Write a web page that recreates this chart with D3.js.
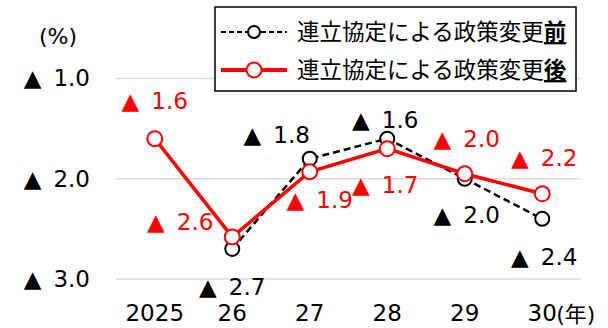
<!DOCTYPE html>
<html>
<head>
<meta charset="utf-8">
<script src="https://cdn.jsdelivr.net/npm/d3@7"></script>
<style>
  body { margin: 0; background: #fff; }
  svg { display: block; font-family: "DejaVu Sans", Verdana, sans-serif; }
</style>
</head>
<body>
<div id="chart"></div>
<script>
/** data (values are negative, shown with ▲) */
var years = ["2025", "26", "27", "28", "29", "30"];
var yTicks = [1.0, 2.0, 3.0];
var beforeVals = [null, 2.7, 1.8, 1.6, 2.0, 2.4];
var afterVals = [1.6, 2.58, 1.93, 1.7, 1.95, 2.15];
var beforeLabels = [null, "2.7", "1.8", "1.6", "2.0", "2.4"];
var afterLabels = ["1.6", "2.6", "1.9", "1.7", "2.0", "2.2"];
var legendNames = ["連立協定による政策変更", "連立協定による政策変更"];
var legendTails = ["前", "後"];

/** label offsets from each point (layout only) */
var beforeOffsets = [null, [0, 38], [-33, -24], [-2, -19], [2, 36], [2, 38]];
var afterOffsets = [[0, -38], [-52, -15], [10, 28], [-2, 36], [2, -35], [2, -36]];

var width = 608, height = 328;
var plotLeft = 116, plotRight = 581, plotTop = 78.5, plotBottom = 279;
var fontSize = 23;

var svg = d3.select("#chart")
  .append("svg")
    .attr("width", width)
    .attr("height", height);

var x = d3.scaleBand()
  .domain(years)
  .range([plotLeft, plotRight]);

var y = d3.scaleLinear()
  .domain([1, 3])
  .range([plotTop, plotBottom]);

/** grid lines */
svg.append("g")
  .selectAll("line")
  .data(yTicks)
  .enter()
  .append("line")
    .attr("x1", plotLeft)
    .attr("x2", plotRight)
    .attr("y1", function(d) { return y(d); })
    .attr("y2", function(d) { return y(d); })
    .attr("stroke", "#d9d9d9")
    .attr("stroke-width", 1.5);

/** writes "▲ n.n" with a little extra gap after the triangle */
function triText(sel, num) {
  sel.text(null);
  sel.append("tspan").text("▲");
  sel.append("tspan").attr("dx", 12).text(num);
}

/** y axis labels */
var yAxis = svg.append("g")
  .attr("transform", "translate(" + plotLeft + ",0)")
  .call(d3.axisLeft(y).tickValues(yTicks).tickSize(0).tickPadding(26));
yAxis.select(".domain").remove();
yAxis.selectAll("text")
  .attr("font-size", fontSize)
  .attr("font-family", "DejaVu Sans")
  .attr("fill", "#000")
  .each(function(d) { triText(d3.select(this), d.toFixed(1)); });

/** x axis labels */
var xAxis = svg.append("g")
  .attr("transform", "translate(0," + plotBottom + ")")
  .call(d3.axisBottom(x).tickSize(0).tickPadding(26));
xAxis.select(".domain").remove();
xAxis.selectAll("text")
  .attr("font-size", fontSize)
  .attr("font-family", "DejaVu Sans")
  .attr("fill", "#000");

var cx = function(i) { return x(years[i]) + x.bandwidth() / 2; };

svg.append("text")
  .attr("x", cx(5) + 14)
  .attr("y", plotBottom + 43)
  .attr("font-size", 22)
  .attr("font-family", "DejaVu Sans, 'Noto Sans CJK JP'")
  .text("(年)");

svg.append("text")
  .attr("x", 58)
  .attr("y", 44)
  .attr("text-anchor", "middle")
  .attr("font-size", 22)
  .text("(%)");

/** lines */
function pts(vals) {
  return vals.map(function(v, i) { return {i: i, v: v}; })
    .filter(function(d) { return d.v != null; });
}
var line = d3.line()
  .x(function(d) { return cx(d.i); })
  .y(function(d) { return y(d.v); });

function drawSeries(vals, colour, w, dash, r) {
  var g = svg.append("g");
  g.append("path")
    .datum(pts(vals))
    .attr("d", line)
    .attr("fill", "none")
    .attr("stroke", colour)
    .attr("stroke-width", w)
    .attr("stroke-dasharray", dash);
  g.selectAll("circle")
    .data(pts(vals))
    .enter()
    .append("circle")
      .attr("cx", function(d) { return cx(d.i); })
      .attr("cy", function(d) { return y(d.v); })
      .attr("r", r)
      .attr("fill", "#fff")
      .attr("stroke", colour)
      .attr("stroke-width", 2);
}
drawSeries(beforeVals, "#000", 2.5, "7,4", 7);
drawSeries(afterVals, "#ff0000", 3.5, null, 7.5);

/** data labels */
function drawLabels(vals, labels, offs, colour) {
  svg.append("g")
    .selectAll("text")
    .data(pts(vals))
    .enter()
    .append("text")
      .attr("x", function(d) { return cx(d.i) + offs[d.i][0]; })
      .attr("y", function(d) { return y(d.v) + offs[d.i][1]; })
      .attr("dy", "0.35em")
      .attr("text-anchor", "middle")
      .attr("font-size", fontSize)
      .attr("fill", colour)
      .each(function(d) { triText(d3.select(this), labels[d.i]); });
}
drawLabels(beforeVals, beforeLabels, beforeOffsets, "#000");
drawLabels(afterVals, afterLabels, afterOffsets, "#ff0000");

/** legend */
var lg = svg.append("g");
lg.append("rect")
  .attr("x", 215)
  .attr("y", 7)
  .attr("width", 361)
  .attr("height", 84)
  .attr("fill", "#fff")
  .attr("stroke", "#000")
  .attr("stroke-width", 1.5);

var legendRows = [
  {y: 32, colour: "#000", w: 2, dash: "5,3", r: 6},
  {y: 70, colour: "#ff0000", w: 4, dash: null, r: 7.5}
];
legendRows.forEach(function(row, i) {
  lg.append("line")
    .attr("x1", 221).attr("x2", 287)
    .attr("y1", row.y).attr("y2", row.y)
    .attr("stroke", row.colour)
    .attr("stroke-width", row.w)
    .attr("stroke-dasharray", row.dash);
  lg.append("circle")
    .attr("cx", 254).attr("cy", row.y).attr("r", row.r)
    .attr("fill", "#fff")
    .attr("stroke", row.colour)
    .attr("stroke-width", 2);
  var t = lg.append("text")
    .attr("x", 297)
    .attr("y", row.y)
    .attr("dy", "0.36em")
    .attr("font-size", 22.5)
    .attr("font-family", "'Noto Sans CJK JP', sans-serif")
    .text(legendNames[i]);
  t.append("tspan")
    .attr("font-weight", "bold")
    .attr("text-decoration", "underline")
    .text(legendTails[i]);
});
</script>
</body>
</html>
